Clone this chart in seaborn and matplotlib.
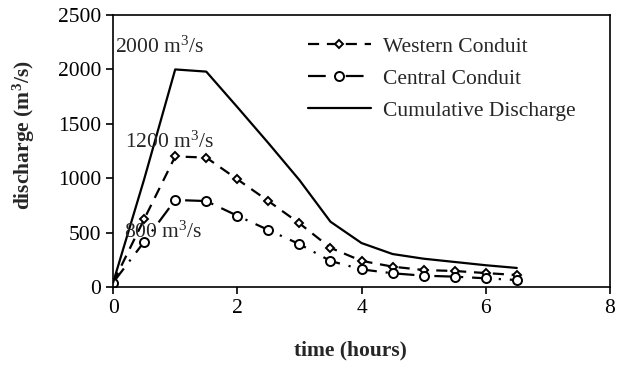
import matplotlib
matplotlib.use("Agg")
import matplotlib.pyplot as plt
import seaborn as sns
import pandas as pd

time = [0, 0.5, 1, 1.5, 2, 2.5, 3, 3.5, 4, 4.5, 5, 5.5, 6, 6.5]
western = [40, 623, 1200, 1190, 990, 790, 585, 360, 240, 187, 156, 147, 128, 110]
central = [40, 415, 800, 790, 655, 524, 394, 239, 162, 126, 104, 95, 80, 64]
cumulative = [40, 990, 2000, 1980, 1654, 1323, 983, 600, 404, 303, 260, 230, 200, 175]

sns.set_style("ticks")
plt.rcParams['font.family'] = ['Liberation Serif', 'DejaVu Serif']
plt.rcParams['font.size'] = 15.5
plt.rcParams['mathtext.fontset'] = 'custom'
plt.rcParams['mathtext.rm'] = 'Liberation Serif'
plt.rcParams['mathtext.it'] = 'Liberation Serif:italic'
plt.rcParams['mathtext.bf'] = 'Liberation Serif:bold'

FS = 15.5

fig = plt.figure(figsize=(6.18, 3.67), dpi=100)
ax = fig.add_axes([0.183, 0.218, 0.804, 0.741])

df_w = pd.DataFrame({'t': time, 'q': western})
df_c = pd.DataFrame({'t': time, 'q': central})
df_s = pd.DataFrame({'t': time, 'q': cumulative})

sns.lineplot(data=df_w, x='t', y='q', ax=ax, color='black', lw=1.6,
             marker='D', markersize=4.5, markerfacecolor='white', markeredgecolor='black',
             markeredgewidth=1.4, label='Western Conduit')
ax.lines[-1].set_dashes([5, 3.5])
sns.lineplot(data=df_c, x='t', y='q', ax=ax, color='black', lw=1.6,
             marker='o', markersize=6.5, markerfacecolor='white', markeredgecolor='black',
             markeredgewidth=1.4, label='Central Conduit')
ax.lines[-1].set_dashes([8, 4, 1, 4])
sns.lineplot(data=df_s, x='t', y='q', ax=ax, color='black', lw=1.6,
             label='Cumulative Discharge')

ax.set_xlim(0, 8)
ax.set_ylim(0, 2500)
ax.set_xticks([0, 2, 4, 6, 8])
ax.set_yticks([0, 500, 1000, 1500, 2000, 2500])
ax.tick_params(direction='out', length=5, width=1.2, labelsize=FS, colors='black')
for s in ax.spines.values():
    s.set_visible(True)
    s.set_linewidth(1.2)
    s.set_color('black')

ax.set_xlabel('time (hours)', fontsize=FS, fontweight='bold')
ax.set_ylabel(r'discharge (m$^{\mathbf{3}}$/s)', fontsize=FS, fontweight='bold')
ax.xaxis.set_label_coords(0.477, -0.195)
ax.yaxis.set_label_coords(-0.153, 0.559)

ax.text(0.03, 2200, r'2000 m$^{3}$/s', fontsize=FS, va='center', ha='left')
ax.text(0.19, 1335, r'1200 m$^{3}$/s', fontsize=FS, va='center', ha='left')
ax.text(0.18, 500, r'800 m$^{3}$/s', fontsize=FS, va='center', ha='left')

leg = ax.legend(loc='upper left', frameon=False, fontsize=FS, handlelength=2.93,
                bbox_to_anchor=(0.392, 0.920), borderaxespad=0, borderpad=0,
                labelspacing=0.55, handletextpad=0.55)

fig.savefig('out.png', dpi=100)
